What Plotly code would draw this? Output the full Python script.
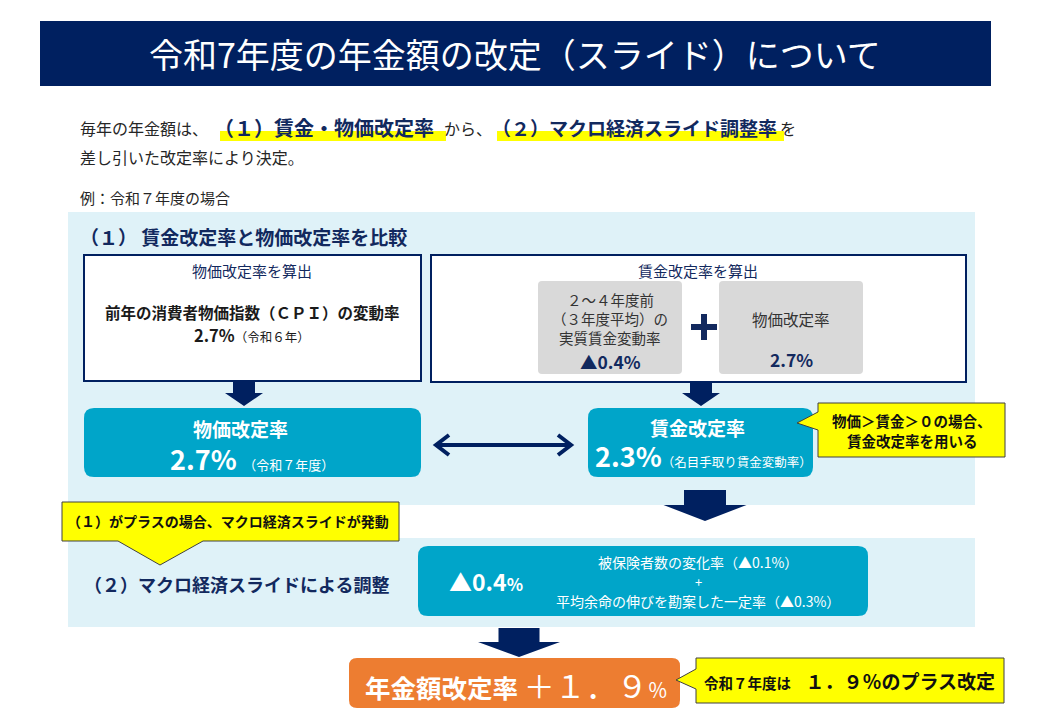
import plotly.graph_objects as go

FONT = "Noto Sans CJK JP"
NAVY = "#002060"
HEAD = "#12295e"
CYAN = "#00a5c9"
PANEL = "#dff2f8"
GRAY = "#d9d9d9"
ORANGE = "#ed7d31"
YELLOW = "#ffff00"
INK = "#262626"

# 改定率 (%) — 令和7年度
cpi_rate = 2.7          # 前年の消費者物価指数（CPI）の変動率（令和6年）
real_wage_rate = -0.4   # 2～4年度前（3年度平均）の実質賃金変動率
price_rate = 2.7        # 物価改定率
wage_rate = 2.3         # 賃金改定率（名目手取り賃金変動率）
insured_rate = -0.1     # 被保険者数の変化率
life_rate = -0.3        # 平均余命の伸びを勘案した一定率
macro_rate = -0.4       # マクロ経済スライド調整率
pension_rate = 1.9      # 年金額改定率

FW = str.maketrans("0123456789.+", "０１２３４５６７８９．＋")


def pct(v):
    return ("▲" if v < 0 else "") + f"{abs(v):.1f}"


def full_width(v):
    return (("＋" if v > 0 else "▲") + f"{abs(v):.1f}").translate(FW)


shapes = []
annotations = []


def rect(x0, y0, x1, y1, fill, line=None, lw=0):
    shapes.append(dict(type="rect", x0=x0, y0=y0, x1=x1, y1=y1, fillcolor=fill,
                       line=dict(color=line or fill, width=lw)))


def rbox(x0, y0, x1, y1, r, fill, line=None, lw=0):
    p = (f"M {x0 + r} {y0} L {x1 - r} {y0} Q {x1} {y0} {x1} {y0 + r} "
         f"L {x1} {y1 - r} Q {x1} {y1} {x1 - r} {y1} L {x0 + r} {y1} "
         f"Q {x0} {y1} {x0} {y1 - r} L {x0} {y0 + r} Q {x0} {y0} {x0 + r} {y0} Z")
    shapes.append(dict(type="path", path=p, fillcolor=fill, line=dict(color=line or fill, width=lw)))


def poly(pts, fill, line=None, lw=0):
    p = "M " + " L ".join(f"{x} {y}" for x, y in pts) + " Z"
    shapes.append(dict(type="path", path=p, fillcolor=fill, line=dict(color=line or fill, width=lw)))


def down_arrow(cx, y0, y_head, y1, shaft, head):
    poly([(cx - shaft / 2, y0), (cx + shaft / 2, y0), (cx + shaft / 2, y_head),
          (cx + head / 2, y_head), (cx, y1), (cx - head / 2, y_head), (cx - shaft / 2, y_head)], NAVY)


def text(x, y, s, size, color=INK, bold=False, xanchor="center"):
    if bold:
        s = f"<b>{s}</b>"
    annotations.append(dict(x=x, y=y, text=s, showarrow=False, xanchor=xanchor, yanchor="middle",
                            font=dict(size=size, color=color, family=FONT)))


# title bar
rect(40, 21, 991, 86, NAVY)
text(515, 53, "令和7年度の年金額の改定（スライド）について", 34, "white")

# intro
rect(220, 131, 446, 141, YELLOW)
rect(497, 131, 784, 141, YELLOW)
text(78, 128, "毎年の年金額は、", 16, xanchor="left")
text(212, 127, "（１）賃金・物価改定率", 20, HEAD, True, "left")
text(442, 128, "から、", 16, xanchor="left")
text(490, 127, "（２）マクロ経済スライド調整率", 19, HEAD, True, "left")
text(778, 128, "を", 16, xanchor="left")
text(78, 157, "差し引いた改定率により決定。", 16, xanchor="left")
text(78, 197, "例：令和７年度の場合", 15, xanchor="left")

# panel (1)
rect(68, 212, 975, 505, PANEL)
text(78, 236, "（１） 賃金改定率と物価改定率を比較", 19, HEAD, True, "left")

rect(84, 255, 421, 381, "white", NAVY, 2)
text(252, 270, "物価改定率を算出", 15, HEAD)
text(252, 312, "前年の消費者物価指数（ＣＰＩ）の変動率", 15.5, "#1a1a1a", True)
text(252, 335, f"<b>{cpi_rate}%</b><span style='font-size:12.5px'>（令和６年）</span>", 16.5, "#1a1a1a")

rect(431, 255, 966, 382, "white", NAVY, 2)
text(698, 270, "賃金改定率を算出", 15, HEAD)
rbox(538, 281, 682, 374, 4, GRAY)
rbox(719, 281, 863, 374, 4, GRAY)
text(610, 299, "２～４年度前", 14.5, "#333333")
text(610, 318, "（３年度平均）の", 14.5, "#333333")
text(610, 337, "実質賃金変動率", 14.5, "#333333")
text(610, 361, pct(real_wage_rate) + "%", 17.5, HEAD, True)
rect(691, 324, 717, 330, HEAD)
rect(701, 314, 707, 340, HEAD)
text(791, 319, "物価改定率", 15.5, "#333333")
text(791, 359, f"{price_rate}%", 17.5, HEAD, True)

down_arrow(244, 382, 393, 406, 22, 38)
down_arrow(701, 382, 393, 406, 22, 38)

rbox(84, 408, 421, 477, 10, CYAN)
text(240, 428, "物価改定率", 19, "white", True)
text(252, 458, f"<b>{price_rate}%</b><span style='font-size:13px'>　（令和７年度）</span>", 27, "white")

rbox(588, 408, 813, 477, 10, CYAN)
text(697, 427, "賃金改定率", 19, "white", True)
text(703, 455, f"<b>{wage_rate}%</b><span style='font-size:12.5px'>（名目手取り賃金変動率）</span>", 27, "white")

shapes.append(dict(type="path", path="M 436 445 L 571 445", line=dict(color=NAVY, width=4)))
shapes.append(dict(type="path", path="M 449 435 L 436 445 L 449 455", line=dict(color=NAVY, width=4)))
shapes.append(dict(type="path", path="M 558 435 L 571 445 L 558 455", line=dict(color=NAVY, width=4)))

poly([(818, 403), (1005, 403), (1005, 457), (818, 457), (818, 430), (797, 423), (818, 412)],
     YELLOW, "#404040", 1)
text(912, 420, "物価＞賃金＞０の場合、", 14.5, "#111111", True)
text(912, 440, "賃金改定率を用いる", 14.5, "#111111", True)

down_arrow(705, 490, 505, 521, 42, 83)

# panel (2)
rect(68, 538, 975, 627, PANEL)
poly([(62, 502), (399, 502), (399, 541), (203, 541), (160, 565), (118, 541), (62, 541)],
     YELLOW, "#404040", 1)
text(228, 521, "（１）がプラスの場合、マクロ経済スライドが発動", 14, "#111111", True)
text(82, 584, "（２）マクロ経済スライドによる調整", 18, HEAD, True, "left")

rbox(418, 546, 868, 616, 10, CYAN)
text(486, 581, f"<b>{pct(macro_rate)}<span style='font-size:17px'>%</span></b>", 23, "white")
text(698, 562, f"被保険者数の変化率（{pct(insured_rate)}%）", 14, "white")
text(698, 581, "+", 13, "white")
text(698, 601, f"平均余命の伸びを勘案した一定率（{pct(life_rate)}%）", 14, "white")

down_arrow(519, 628, 642, 657, 41, 82)

# result
rbox(349, 658, 680, 708, 8, ORANGE)
text(516, 684, "<b>年金額改定率</b> <span style='font-size:31px'>" + full_width(pension_rate)
     + "</span><span style='font-size:20px'>％</span>", 25.5, "white")

poly([(696, 658), (1004, 658), (1004, 703), (696, 703), (696, 689), (676, 680), (696, 669)],
     YELLOW, "#404040", 1)
text(849, 680, "<b>令和７年度は　<span style='font-size:19px'>"
     + full_width(pension_rate).lstrip("＋") + "％のプラス改定</span></b>", 14.5, "#111111")

fig = go.Figure()
fig.update_layout(
    width=1040, height=720,
    margin=dict(l=0, r=0, t=0, b=0),
    paper_bgcolor="white", plot_bgcolor="white",
    xaxis=dict(range=[0, 1040], visible=False, fixedrange=True),
    yaxis=dict(range=[720, 0], visible=False, fixedrange=True),
    shapes=shapes, annotations=annotations,
    font=dict(family=FONT),
    showlegend=False,
)
fig.write_html("out.html", config={"displayModeBar": False},
               post_script="document.body.style.margin='0';document.body.style.overflow='hidden';")
